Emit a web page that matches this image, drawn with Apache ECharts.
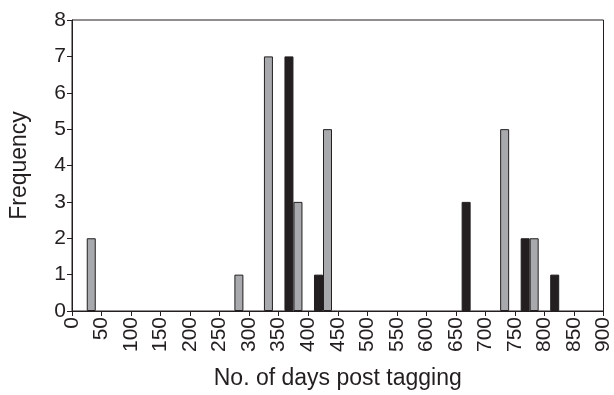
<!DOCTYPE html>
<html>
<head>
<meta charset="utf-8">
<script src="https://cdn.jsdelivr.net/npm/echarts@6/dist/echarts.min.js"></script>
<style>
html,body{margin:0;padding:0;background:#fff;}
#chart{width:614px;height:395px;}
</style>
</head>
<body>
<div id="chart"></div>
<script>
// Bin centres (50-day bins from 0 to 900)
var binCenters = [25, 75, 125, 175, 225, 275, 325, 375, 425, 475, 525, 575, 625, 675, 725, 775, 825, 875];
var blackFreq = [0, 0, 0, 0, 0, 0, 0, 7, 1, 0, 0, 0, 0, 3, 0, 2, 1, 0];
var greyFreq  = [2, 0, 0, 0, 0, 1, 7, 3, 5, 0, 0, 0, 0, 0, 5, 2, 0, 0];
var xTickValues = [0, 50, 100, 150, 200, 250, 300, 350, 400, 450, 500, 550, 600, 650, 700, 750, 800, 850, 900];
var yTickValues = [0, 1, 2, 3, 4, 5, 6, 7, 8];

function pairs(vals) {
  return binCenters.map(function (c, i) { return [c, vals[i] === 0 ? null : vals[i]]; });
}

var ink = '#231f20';
var font = 'Liberation Sans, Arial, Helvetica, sans-serif';
var chart = echarts.init(document.getElementById('chart'), null, {renderer: 'canvas'});
chart.setOption({
  animation: false,
  backgroundColor: '#ffffff',
  grid: {left: 72, right: 10, top: 20, bottom: 81, show: true, borderColor: ink, borderWidth: 1, backgroundColor: 'transparent'},
  xAxis: {
    type: 'value', min: xTickValues[0], max: xTickValues[xTickValues.length - 1], interval: 50,
    name: 'No. of days post tagging', nameLocation: 'middle', nameGap: 56,
    nameTextStyle: {fontFamily: font, fontSize: 23, color: ink},
    axisLine: {show: true, onZero: false, lineStyle: {color: ink, width: 1}},
    axisTick: {show: true, length: 5, inside: false, lineStyle: {color: ink}},
    axisLabel: {rotate: 90, margin: 6, fontFamily: font, fontSize: 21, color: ink},
    splitLine: {show: false}
  },
  yAxis: {
    type: 'value', min: yTickValues[0], max: yTickValues[yTickValues.length - 1], interval: 1,
    name: 'Frequency', nameLocation: 'middle', nameGap: 41, nameRotate: 90,
    nameTextStyle: {fontFamily: font, fontSize: 23, color: ink},
    axisLine: {show: true, lineStyle: {color: ink, width: 1}},
    axisTick: {show: true, length: 5, inside: false, lineStyle: {color: ink}},
    axisLabel: {margin: 6, fontFamily: font, fontSize: 21, color: ink},
    splitLine: {show: false}
  },
  series: [
    {type: 'bar', name: 'black', data: pairs(blackFreq), barWidth: 9, barGap: '0%',
     itemStyle: {color: ink, borderColor: ink, borderWidth: 1}},
    {type: 'bar', name: 'grey', data: pairs(greyFreq), barWidth: 9, barGap: '0%',
     itemStyle: {color: '#a7a9ac', borderColor: ink, borderWidth: 1}}
  ]
});
</script>
</body>
</html>
